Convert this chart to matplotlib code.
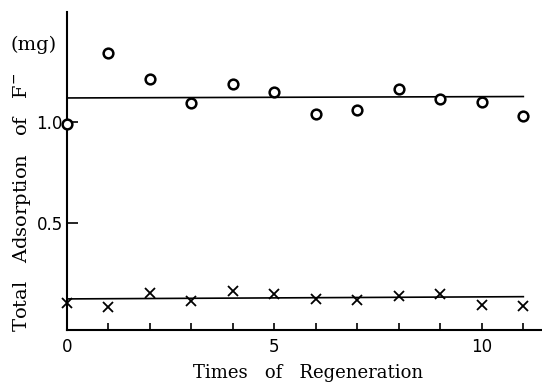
import matplotlib
matplotlib.use("Agg")
import matplotlib.pyplot as plt

regen = [0, 1, 2, 3, 4, 5, 6, 7, 8, 9, 10, 11]
circle_vals = [0.99, 1.338, 1.212, 1.090, 1.186, 1.146, 1.036, 1.058, 1.161, 1.110, 1.095, 1.030]
cross_vals = [0.107, 0.090, 0.156, 0.120, 0.166, 0.153, 0.128, 0.123, 0.143, 0.153, 0.099, 0.095]
upper_line_x = [0, 11]
upper_line_y = [1.117, 1.124]
lower_line_x = [0, 11]
lower_line_y = [0.128, 0.139]
xticks_major = [0, 5, 10]
xticks_minor = [1, 2, 3, 4, 6, 7, 8, 9, 11]
yticks = [0.5, 1.0]

W, H = 542, 383
fig = plt.figure(figsize=(W/100, H/100), dpi=100)
ax = fig.add_axes([67/W, 53/H, 1 - 67/W, (330-12)/H])

ax.plot(upper_line_x, upper_line_y, color='black', lw=1.2)
ax.plot(lower_line_x, lower_line_y, color='black', lw=1.2)
ax.plot(regen, circle_vals, linestyle='none', marker='o', markersize=7,
        markerfacecolor='white', markeredgecolor='black', markeredgewidth=1.8, clip_on=False, zorder=3)
ax.plot(regen, cross_vals, linestyle='none', marker='x', markersize=6.5,
        color='black', markeredgewidth=1.3, clip_on=False, zorder=3)

ax.set_xlim(0, 11.45)
ax.set_ylim(-0.025, 1.54)
ax.spines['top'].set_visible(False)
ax.spines['right'].set_visible(False)
ax.spines['left'].set_linewidth(1.5)
ax.spines['bottom'].set_linewidth(1.5)

ax.set_xticks(xticks_major)
ax.set_xticklabels([str(v) for v in xticks_major], fontsize=12)
ax.set_xticks(xticks_minor, minor=True)
ax.tick_params(axis='x', which='both', direction='in', length=5, width=1.2, pad=6)
ax.set_yticks(yticks)
ax.set_yticklabels(['0.5', '1.0'], fontsize=12)
ax.tick_params(axis='y', direction='in', length=8, width=1.2, pad=3)

fig.text(308/W, 1 - 373/H, 'Times   of   Regeneration', fontsize=13, family='DejaVu Serif',
         ha='center', va='center')
fig.text(22/W, 1 - 202/H, 'Total   Adsorption   of   F$^{-}$', fontsize=14, family='DejaVu Serif',
         rotation=90, ha='center', va='center')
fig.text(11/W, 1 - 45/H, '(mg)', fontsize=14, family='DejaVu Serif', va='center', ha='left')

fig.savefig('out.png', dpi=100)
